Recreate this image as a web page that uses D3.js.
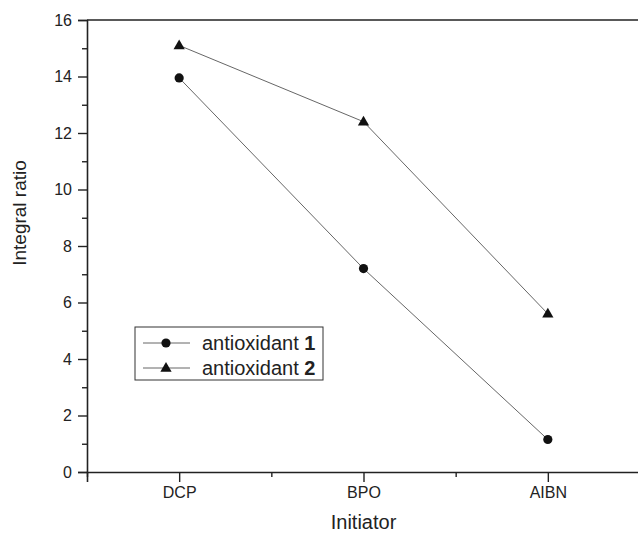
<!DOCTYPE html>
<html>
<head>
<meta charset="utf-8">
<script src="https://cdn.jsdelivr.net/npm/d3@7"></script>
<style>
  body { margin: 0; background: #fff; }
  svg { font-family: "Liberation Sans", Arial, sans-serif; }
</style>
</head>
<body>
<div id="chart"></div>
<script>
// data
var initiators = ["DCP", "BPO", "AIBN"];
var antioxidant1 = [13.95, 7.2, 1.15];
var antioxidant2 = [15.1, 12.4, 5.6];
var yTicks = [0, 2, 4, 6, 8, 10, 12, 14, 16];

var margin = {top: 20, right: 0, bottom: 62, left: 87},
    width = 638 - margin.left - margin.right,
    height = 534 - margin.top - margin.bottom;

var svg = d3.select("#chart")
  .append("svg")
    .attr("width", 638)
    .attr("height", 534)
  .append("g")
    .attr("transform", "translate(" + margin.left + "," + margin.top + ")");

// categories at 1,2,3 on a linear axis from 0.5 to 3.5
var x = d3.scaleLinear()
  .domain([0.5, 3.5])
  .range([0, width + 2]);

var y = d3.scaleLinear()
  .domain([0, 16])
  .range([height, 0]);

// top frame line
svg.append("line")
  .attr("x1", 0).attr("x2", width)
  .attr("y1", 0).attr("y2", 0)
  .attr("stroke", "#222").attr("stroke-width", 1.6);

// y axis
var yAxis = svg.append("g")
  .call(d3.axisLeft(y).tickValues(yTicks).tickSize(9).tickPadding(6).tickFormat(d3.format("d")));
yAxis.select(".domain").attr("stroke", "#222").attr("stroke-width", 1.6);
yAxis.selectAll(".tick line").attr("stroke", "#222").attr("stroke-width", 1.4);
yAxis.selectAll("text").style("font-size", "16px").attr("fill", "#222");

// y minor ticks
svg.append("g")
  .call(d3.axisLeft(y).tickValues(d3.range(1, 16, 2)).tickSize(5).tickFormat(""))
  .call(function(g) { g.select(".domain").remove(); })
  .selectAll(".tick line").attr("stroke", "#222").attr("stroke-width", 1.4);

// x axis
var xAxis = svg.append("g")
  .attr("transform", "translate(0," + height + ")")
  .call(d3.axisBottom(x).tickValues([1, 2, 3]).tickSize(10).tickPadding(5)
        .tickFormat(function(d) { return initiators[d - 1]; }));
xAxis.select(".domain").attr("stroke", "#222").attr("stroke-width", 1.6);
xAxis.selectAll(".tick line").attr("stroke", "#222").attr("stroke-width", 1.4);
xAxis.selectAll("text").style("font-size", "16px").attr("fill", "#222");

// x minor ticks
svg.append("g")
  .attr("transform", "translate(0," + height + ")")
  .call(d3.axisBottom(x).tickValues([0.5, 1.5, 2.5]).tickSize(5).tickFormat(""))
  .call(function(g) { g.select(".domain").remove(); })
  .selectAll(".tick line").attr("stroke", "#222").attr("stroke-width", 1.4);

var line = d3.line()
  .x(function(d, i) { return x(i + 1); })
  .y(function(d) { return y(d); });

var triangle = d3.symbol().type(d3.symbolTriangle).size(55);

// antioxidant 1
svg.append("path")
  .datum(antioxidant1)
  .attr("fill", "none")
  .attr("stroke", "#555")
  .attr("stroke-width", 0.9)
  .attr("d", line);
svg.selectAll(".dot1")
  .data(antioxidant1)
  .enter().append("circle")
    .attr("cx", function(d, i) { return x(i + 1); })
    .attr("cy", function(d) { return y(d); })
    .attr("r", 4.6)
    .attr("fill", "#111");

// antioxidant 2
svg.append("path")
  .datum(antioxidant2)
  .attr("fill", "none")
  .attr("stroke", "#555")
  .attr("stroke-width", 0.9)
  .attr("d", line);
svg.selectAll(".tri2")
  .data(antioxidant2)
  .enter().append("path")
    .attr("d", triangle)
    .attr("transform", function(d, i) { return "translate(" + x(i + 1) + "," + (y(d) + 0.5) + ")"; })
    .attr("fill", "#111");

// legend
var legend = svg.append("g").attr("transform", "translate(48,307)");
legend.append("rect")
  .attr("width", 188).attr("height", 53)
  .attr("fill", "#fff").attr("stroke", "#333").attr("stroke-width", 1);

var entries = [{n: "1", sym: "circle"}, {n: "2", sym: "triangle"}];
entries.forEach(function(e, i) {
  var gy = 16 + i * 25;
  legend.append("line")
    .attr("x1", 8).attr("x2", 55).attr("y1", gy).attr("y2", gy)
    .attr("stroke", "#555").attr("stroke-width", 0.9);
  if (e.sym === "circle") {
    legend.append("circle").attr("cx", 31).attr("cy", gy).attr("r", 4.6).attr("fill", "#111");
  } else {
    legend.append("path").attr("d", triangle)
      .attr("transform", "translate(31," + (gy + 0.5) + ")").attr("fill", "#111");
  }
  var t = legend.append("text")
    .attr("x", 67).attr("y", gy + 7)
    .style("font-size", "20px").attr("fill", "#222");
  t.append("tspan").text("antioxidant ");
  t.append("tspan").style("font-weight", "bold").text(e.n);
});

// axis titles
svg.append("text")
  .attr("text-anchor", "middle")
  .attr("x", x(2))
  .attr("y", height + 57)
  .style("font-size", "20px")
  .attr("fill", "#222")
  .text("Initiator");

svg.append("text")
  .attr("text-anchor", "middle")
  .attr("transform", "rotate(-90)")
  .attr("x", -(213 - margin.top))
  .attr("y", -61)
  .style("font-size", "19px")
  .attr("fill", "#222")
  .text("Integral ratio");
</script>
</body>
</html>
